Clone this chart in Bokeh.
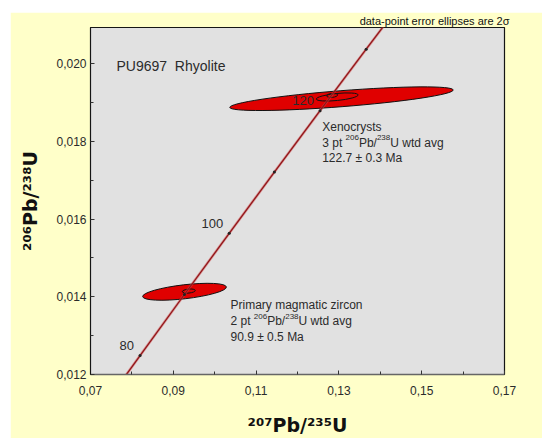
import math
from bokeh.plotting import figure
from bokeh.models import Label, FixedTicker
from bokeh.embed import file_html
from bokeh.resources import INLINE

# ---------------- data ----------------
# Concordia curve (age in Ma, 207Pb/235U, 206Pb/238U)
conc_age = [70, 80, 90, 100, 110, 120, 130, 140]
conc_x = [0.071327, 0.081975, 0.092683, 0.103508, 0.114419, 0.125449, 0.136588, 0.147837]
conc_y = [0.010918, 0.012487, 0.014059, 0.015633, 0.017210, 0.018789, 0.020371, 0.021955]
marker_ages = [80, 90, 100, 110, 120, 130]
label_ages = [80, 100, 120]

# Error ellipses (2 sigma)
ell_x = [0.13063, 0.12959, 0.12838, 0.09271, 0.09374]
ell_y = [0.019098, 0.019142, 0.019183, 0.014129, 0.014147]
ell_w = [0.05413, 0.01014, 0.00266, 0.02036, 0.00314]
ell_h = [0.000412, 0.000180, 0.000103, 0.000360, 0.000103]
ell_angle = [0.078, 0.10, 0.10, 0.115, 0.10]
ell_filled = [True, False, False, True, False]

# Ticks
xticks = [0.07, 0.09, 0.11, 0.13, 0.15, 0.17]
xtick_labels = ["0,07", "0,09", "0,11", "0,13", "0,15", "0,17"]
xminor = [0.08, 0.10, 0.12, 0.14, 0.16]
yticks = [0.012, 0.014, 0.016, 0.018, 0.020]
ytick_labels = ["0,012", "0,014", "0,016", "0,018", "0,020"]
yminor = [0.013, 0.015, 0.017, 0.019]

X_RANGE = (0.07, 0.17)
Y_RANGE = (0.012, 0.02093)

# ---------------- layout ----------------
W, H = 532, 426
OX, OY = 10, 12          # page position of the canvas (white strip left/top)
BL, BR, BT, BB = 80, 38, 15, 64
FW, FH = W - BL - BR, H - BT - BB
FX0, FY0 = OX + BL, OY + BT + FH   # page px of frame's bottom-left corner

FONT = "Liberation Sans"
TXT = "#2b2b2b"

p = figure(width=W, height=H, x_range=X_RANGE, y_range=Y_RANGE,
           output_backend="svg", toolbar_location=None,
           min_border_left=BL, min_border_right=BR,
           min_border_top=BT, min_border_bottom=BB,
           background_fill_color="#e1e1e1", border_fill_color="#ffffc9",
           outline_line_color="#151515", outline_line_width=1.2)
p.margin = (OY, 0, 0, OX)
p.grid.visible = False

# note line above the frame (as the plot title, right aligned)
p.title.text = "data-point error ellipses are 2σ"
p.title.align = "right"
p.title.offset = -5
p.title.standoff = 1
p.title.text_font = FONT
p.title.text_font_size = "11px"
p.title.text_font_style = "normal"
p.title.text_color = "#111111"

for ax, tk, mn, lb in ((p.xaxis, xticks, xminor, xtick_labels),
                       (p.yaxis, yticks, yminor, ytick_labels)):
    ax.ticker = FixedTicker(ticks=tk, minor_ticks=mn)
    ax.major_label_overrides = dict(zip(tk, lb))
    ax.major_tick_in = 4
    ax.major_tick_out = 0
    ax.minor_tick_in = 3
    ax.minor_tick_out = 0
    ax.major_tick_line_color = "#333333"
    ax.minor_tick_line_color = "#333333"
    ax.major_label_text_font = FONT
    ax.major_label_text_font_size = "12px"
    ax.major_label_text_color = TXT
    ax.axis_label_text_font = "DejaVu Sans"
    ax.axis_label_text_font_size = "19px"
    ax.axis_label_text_font_style = "bold"
    ax.axis_label_text_color = "#111111"
p.xaxis.axis_label = "²⁰⁷Pb/²³⁵U"
p.yaxis.axis_label = "²⁰⁶Pb/²³⁸U"
p.xaxis.major_label_standoff = 11
p.yaxis.major_label_standoff = 4
p.xaxis.axis_label_standoff = 16
p.yaxis.axis_label_standoff = 12
p.xaxis.axis_line_color = "#666666"
p.xaxis.axis_line_width = 1.5
p.yaxis.axis_line_color = "#151515"

# ellipses
for i in range(len(ell_x)):
    p.ellipse(x=ell_x[i], y=ell_y[i], width=ell_w[i], height=ell_h[i],
              angle=ell_angle[i],
              fill_color="#e00000" if ell_filled[i] else None,
              fill_alpha=1.0 if ell_filled[i] else 0.0,
              line_color="#111111", line_width=1)

# concordia
p.line(conc_x, conc_y, line_color="#d04848", line_width=2.6, line_alpha=0.55)
p.line(conc_x, conc_y, line_color="#8e1418", line_width=1.2)
mk_x = [conc_x[conc_age.index(a)] for a in marker_ages]
mk_y = [conc_y[conc_age.index(a)] for a in marker_ages]
p.scatter(mk_x, mk_y, size=3, marker="circle", fill_color="#222222", line_color=None)

for a in label_ages:
    i = conc_age.index(a)
    p.add_layout(Label(x=conc_x[i], y=conc_y[i], x_offset=-6, y_offset=10,
                       text=str(a), text_align="right", text_baseline="alphabetic",
                       text_font=FONT, text_font_size="13px", text_color=TXT))

# ---------------- texts ----------------
WR = {' ': 278, '\u00a0': 278, ',': 278, '-': 333, '.': 278, '/': 278, '±': 584, 'σ': 571,
      'M': 833, 'P': 667, 'U': 722, 'R': 722, 'X': 667,
      'a': 556, 'b': 556, 'c': 500, 'd': 556, 'e': 556, 'g': 556, 'h': 556,
      'i': 222, 'l': 222, 'm': 833, 'n': 556, 'o': 556, 'p': 556, 'r': 333,
      's': 500, 't': 278, 'v': 500, 'w': 722, 'y': 500, 'z': 500}


def tw(s, size):
    return sum(WR.get(c, 556) for c in s) * size / 1000.0


def put(px, py, text, size, align="left", color=TXT):
    # anchored at frame bottom-left corner, positioned by pixel offsets
    p.add_layout(Label(x=X_RANGE[0], y=Y_RANGE[0],
                       x_offset=px - FX0, y_offset=FY0 - py,
                       text=text, text_font=FONT, text_font_size=f"{size}px",
                       text_align=align, text_baseline="alphabetic",
                       text_color=color))


def rich(px, py, segs, color=TXT):
    off = 0
    for t, s, r in segs:
        put(px + off, py - r, t, s, color=color)
        off += tw(t, s)


put(116, 65, "PU9697\u00a0 Rhyolite", 14)

put(321.7, 126, "Xenocrysts", 12)
rich(321.7, 142, [("3 pt ", 12, 0), ("206", 8, 5), ("Pb/", 12, 0),
                  ("238", 8, 5), ("U wtd avg", 12, 0)])
put(321.7, 157.5, "122.7 ± 0.3 Ma", 12)

put(230, 304.5, "Primary magmatic zircon", 12)
rich(230, 320.5, [("2 pt ", 12, 0), ("206", 8, 5), ("Pb/", 12, 0),
                  ("238", 8, 5), ("U wtd avg", 12, 0)])
put(230, 336.5, "90.9 ± 0.5 Ma", 12)

open("out.html", "w").write(file_html(p, INLINE))
